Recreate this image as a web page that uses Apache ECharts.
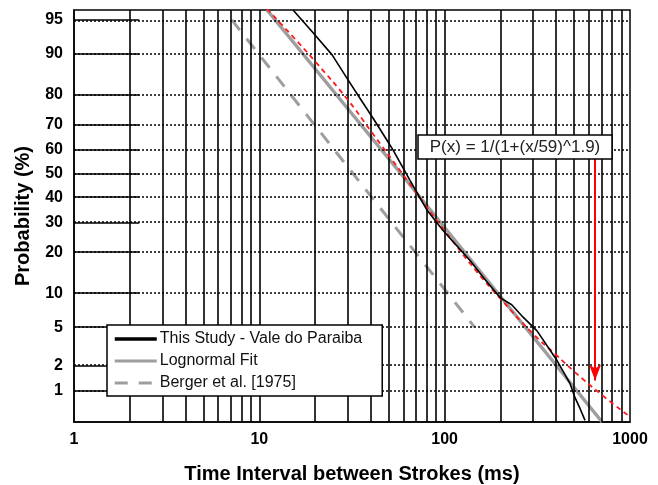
<!DOCTYPE html>
<html><head><meta charset="utf-8">
<script src="https://cdn.jsdelivr.net/npm/echarts@6/dist/echarts.min.js"></script>
<style>html,body{margin:0;padding:0;background:#fff}#c{width:658px;height:485px}</style>
</head><body><div id="c"></div>
<script>
// ---- data ----
const probTicks = [1, 2, 5, 10, 20, 30, 40, 50, 60, 70, 80, 90, 95];
const timeTickLabels = [1, 10, 100, 1000];
const timeGridLines = [2,3,4,5,6,7,8,9,10,20,30,40,50,60,70,80,90,100,200,300,400,500,600,700,800,900];

const studyTime = [15.2, 19.5, 24.7, 30.1, 34.9, 41.1, 49.5, 52.7, 65, 80.4, 98, 137, 165, 199, 230, 265, 315, 404, 475, 505, 538, 572];
const studyProb = [96.0, 93.4, 89.8, 84.2, 79.0, 72.3, 63.2, 59.9, 47.1, 34.7, 27.1, 17.6, 12.8, 9.2, 8.0, 6.2, 4.6, 2.26, 1.22, 0.82, 0.59, 0.41];

const fitTime = [11, 58, 707];
const fitProb = [96.0, 50, 0.39];

const bergerTime = [7.1, 32, 145];
const bergerProb = [95, 50, 5];

const powerTime = [11, 15, 20, 30, 40, 59, 80, 100, 150, 200, 300, 400, 500, 700, 1000];
const powerProb = [96.1, 93, 88.5, 78.5, 67.5, 50, 36, 27, 14.5, 9, 4.3, 2.6, 1.7, 0.9, 0.46];

const arrowTime = 648;
const arrowProb = [56.5, 1.33];
const annotationText = 'P(x) = 1/(1+(x/59)^1.9)';
const yMinPct = 0.39, yMaxPct = 96.0;

// ---- probability (probit) scale ----
function probit(pct) {
  const p = pct / 100;
  const a = [-3.969683028665376e+01, 2.209460984245205e+02, -2.759285104469687e+02, 1.383577518672690e+02, -3.066479806614716e+01, 2.506628277459239e+00];
  const b = [-5.447609879822406e+01, 1.615858368580409e+02, -1.556989798598866e+02, 6.680131188771972e+01, -1.328068155288572e+01];
  const c = [-7.784894002430293e-03, -3.223964580411365e-01, -2.400758277161838e+00, -2.549732539343734e+00, 4.374664141464968e+00, 2.938163982698783e+00];
  const d = [7.784695709041462e-03, 3.224671290700398e-01, 2.445134137142996e+00, 3.754408661907416e+00];
  const plow = 0.02425;
  let q, r;
  if (p < plow) {
    q = Math.sqrt(-2 * Math.log(p));
    return (((((c[0]*q+c[1])*q+c[2])*q+c[3])*q+c[4])*q+c[5]) / ((((d[0]*q+d[1])*q+d[2])*q+d[3])*q+1);
  } else if (p <= 1 - plow) {
    q = p - 0.5; r = q*q;
    return (((((a[0]*r+a[1])*r+a[2])*r+a[3])*r+a[4])*r+a[5])*q / (((((b[0]*r+b[1])*r+b[2])*r+b[3])*r+b[4])*r+1);
  } else {
    q = Math.sqrt(-2 * Math.log(1 - p));
    return -(((((c[0]*q+c[1])*q+c[2])*q+c[3])*q+c[4])*q+c[5]) / ((((d[0]*q+d[1])*q+d[2])*q+d[3])*q+1);
  }
}
const pair = (xs, ps) => xs.map((x, i) => [x, probit(ps[i])]);

const FONT = '"Liberation Sans", Arial, Helvetica, sans-serif';

const gridMarks = [];
timeGridLines.forEach(t => gridMarks.push({ xAxis: t, lineStyle: { type: 'solid', width: 1.6, color: '#000' } }));
probTicks.forEach(p => {
  gridMarks.push({ yAxis: probit(p), lineStyle: { type: [2, 2], width: 1.5, color: '#000' } });
  gridMarks.push([{ coord: [1, probit(p)], lineStyle: { type: 'solid', width: 1.6, color: '#000' } }, { coord: [2.25, probit(p)] }]);
});

const chart = echarts.init(document.getElementById('c'), null, { renderer: 'canvas' });
chart.setOption({
  animation: false,
  backgroundColor: '#fff',
  grid: { left: 74, right: 28, top: 10, bottom: 63, containLabel: false, outerBoundsMode: 'none',
          show: true, borderColor: '#000', borderWidth: 1.5, backgroundColor: 'transparent' },
  xAxis: {
    type: 'log', logBase: 10, min: timeTickLabels[0], max: timeTickLabels[timeTickLabels.length - 1],
    axisLine: { show: true, onZero: false, lineStyle: { color: '#000', width: 1.5 } },
    axisTick: { show: false }, splitLine: { show: false }, minorTick: { show: false },
    axisLabel: { color: '#000', fontFamily: FONT, fontWeight: 'bold', fontSize: 16, margin: 10, formatter: v => String(Math.round(v)) },
    name: 'Time Interval between Strokes (ms)', nameLocation: 'middle', nameGap: 42,
    nameTextStyle: { color: '#000', fontFamily: FONT, fontWeight: 'bold', fontSize: 20 }
  },
  yAxis: {
    type: 'value', min: probit(yMinPct), max: probit(yMaxPct),
    axisLine: { show: true, onZero: false, lineStyle: { color: '#000', width: 1.5 } },
    axisTick: { show: false }, splitLine: { show: false },
    axisLabel: {
      color: '#000', fontFamily: FONT, fontWeight: 'bold', fontSize: 16, margin: 11,
      customValues: probTicks.map(probit),
      formatter: v => {
        let best = probTicks[0], bd = 1e9;
        probTicks.forEach(p => { const dd = Math.abs(probit(p) - v); if (dd < bd) { bd = dd; best = p; } });
        return String(best);
      }
    },
    name: 'Probability (%)', nameLocation: 'middle', nameGap: 41, nameRotate: 90,
    nameTextStyle: { color: '#000', fontFamily: FONT, fontWeight: 'bold', fontSize: 20 }
  },
  legend: {
    left: 107, top: 325, orient: 'vertical',
    data: [
      { name: 'This Study - Vale do Paraiba', lineStyle: { width: 3.5 } },
      { name: 'Lognormal Fit', lineStyle: { width: 3 } },
      { name: 'Berger et al. [1975]', lineStyle: { width: 3 } }
    ],
    itemWidth: 42, itemHeight: 14, itemGap: 6,
    itemStyle: { opacity: 0 },
    padding: [6, 20, 5, 6],
    backgroundColor: '#fff', borderColor: '#000', borderWidth: 1.5, borderRadius: 0,
    textStyle: { color: '#111', fontFamily: FONT, fontSize: 16, padding: [0, 0, 0, -2] },
    z: 20
  },
  series: [
    {
      name: 'grid', type: 'line', data: [], silent: true, z: 1,
      markLine: { silent: true, symbol: ['none', 'none'], label: { show: false }, animation: false, data: gridMarks }
    },
    {
      name: 'Berger et al. [1975]', type: 'line', data: pair(bergerTime, bergerProb), showSymbol: false, symbol: 'none', z: 3,
      itemStyle: { color: '#9e9e9e' },
      lineStyle: { color: '#9e9e9e', width: 3, type: [13, 11] }
    },
    {
      name: 'Lognormal Fit', type: 'line', data: pair(fitTime, fitProb), showSymbol: false, symbol: 'none', z: 4,
      itemStyle: { color: '#9e9e9e' },
      lineStyle: { color: '#9e9e9e', width: 3.5 }
    },
    {
      name: 'P(x)', type: 'line', data: pair(powerTime, powerProb), showSymbol: false, symbol: 'none', smooth: true, z: 5,
      itemStyle: { color: '#ff1a1a' },
      lineStyle: { color: '#ff1a1a', width: 1.8, type: [5, 4] },
      markLine: {
        silent: true, symbol: ['none', 'arrow'], symbolSize: [9, 16], label: { show: false }, animation: false,
        lineStyle: { color: '#ff0000', width: 2, type: 'solid' },
        data: [[{ coord: [arrowTime, probit(arrowProb[0])] }, { coord: [arrowTime, probit(arrowProb[1])] }]]
      }
    },
    {
      name: 'This Study - Vale do Paraiba', type: 'line', data: pair(studyTime, studyProb), showSymbol: false, symbol: 'none', z: 6,
      itemStyle: { color: '#000' },
      lineStyle: { color: '#000', width: 1.6 }
    }
  ],
  graphic: [
    { type: 'rect', z: 30, zlevel: 0, shape: { x: 418, y: 135, width: 194, height: 24 }, style: { fill: '#fff', stroke: '#000', lineWidth: 1.5 } },
    { type: 'text', z: 31, zlevel: 0, x: 515, y: 147, style: { text: annotationText, font: '17px ' + FONT, fill: '#222', align: 'center', verticalAlign: 'middle' } }
  ]
});
</script>
</body></html>
